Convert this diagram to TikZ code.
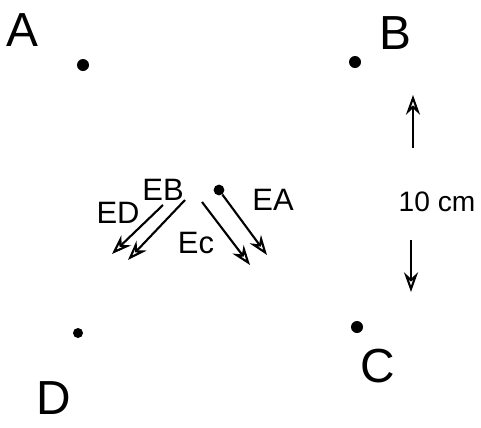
\documentclass[tikz,border=0pt]{standalone}
\usepackage{fontspec}
\setmainfont{Liberation Sans}
\usetikzlibrary{arrows.meta,positioning}
\tikzset{
  chg/.style={circle,fill=black,inner sep=0pt,minimum size=0.3cm},
  LB/.style={font=\fontsize{34}{34}\selectfont,inner sep=0pt},
  LE/.style={font=\fontsize{22}{22}\selectfont,inner sep=0pt},
  arr/.style={-{Stealth[length=14pt,width=10pt,open]},line width=1.5pt}
}
\begin{document}
\begin{tikzpicture}[x=0.025cm,y=-0.025cm]
  \useasboundingbox (0,0) rectangle (481,428);
  % charges at the corners
  \node[chg] (qA) at (83,65) {};
  \node[chg] (qB) at (355,62) {};
  \node[chg] (qC) at (357,327) {};
  \node[chg,minimum size=0.25cm] (qD) at (78,333) {};
  \node[LB] (lA) at (22,30) {A};
  \node[LB] (lB) at (395,33) {B};
  \node[LB] (lC) at (378,366) {C};
  \node[LB] (lD) at (54,398) {D};

  % test point and fields
  \node[chg,minimum size=0.27cm] (P) at (219,190) {};
  \coordinate (sD) at (163,205);
  \coordinate (sB) at (185,200);
  \coordinate (sC) at (202,202);
  \coordinate (eD) at (112,254);
  \coordinate (eB) at (128,260);
  \coordinate (eC) at (250,265);
  \coordinate (eA) at (267,255);
  \draw[arr] (sD)--(eD);
  \draw[arr] (sB)--(eB);
  \draw[arr] (sC)--(eC);
  \draw[arr] (P)--(eA);
  \node[LE] (fD) at (118,213) {ED};
  \node[LE] (fB) at (163,190) {EB};
  \node[LE] (fC) at (196,243) {Ec};
  \node[LE] (fA) at (273,200) {EA};

  % side length
  \node[LE,font=\fontsize{20}{20}\selectfont] (len) at (437,202) {10 cm};
  \coordinate (uS) at (413,148);
  \coordinate (uE) at (413,95);
  \coordinate (dS) at (411,240);
  \coordinate (dE) at (411,292);
  \draw[arr] (uS)--(uE);
  \draw[arr] (dS)--(dE);
\end{tikzpicture}
\end{document}
